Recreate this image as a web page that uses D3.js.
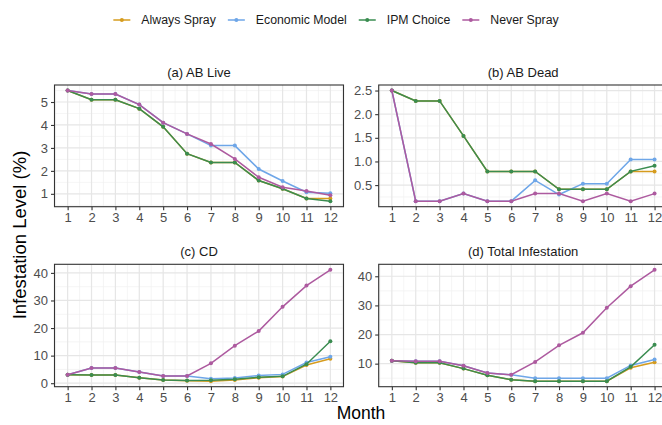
<!DOCTYPE html>
<html>
<head>
<meta charset="utf-8">
<script src="https://cdn.jsdelivr.net/npm/d3@7"></script>
<style>
  body { margin: 0; background: #fff; }
  svg { display: block; font-family: "Liberation Sans", Arial, Helvetica, sans-serif; }
</style>
</head>
<body>
<div id="chart"></div>
<script>
// months on the x axis
const months = [1, 2, 3, 4, 5, 6, 7, 8, 9, 10, 11, 12];
const seriesNames = ["Always Spray", "Economic Model", "IPM Choice", "Never Spray"];
const seriesColors = ["#D69C1E", "#6EA6E8", "#3A8C50", "#AD5A9F"];

// (a) AB Live
const abLiveAlways   = [5.5, 5.1, 5.1, 4.71, 3.92, 2.75, 2.37, 2.37, 1.58, 1.22, 0.8, 0.8];
const abLiveEconomic = [5.5, 5.35, 5.35, 4.89, 4.1, 3.61, 3.1, 3.1, 2.08, 1.56, 1.07, 1.03];
const abLiveIpm      = [5.5, 5.1, 5.1, 4.71, 3.92, 2.75, 2.37, 2.37, 1.58, 1.22, 0.8, 0.68];
const abLiveNever    = [5.5, 5.35, 5.35, 4.89, 4.1, 3.61, 3.17, 2.52, 1.72, 1.29, 1.12, 0.94];

// (b) AB Dead
const abDeadAlways   = [2.5, 2.28, 2.28, 1.54, 0.79, 0.79, 0.79, 0.41, 0.41, 0.41, 0.79, 0.79];
const abDeadEconomic = [2.5, 0.16, 0.16, 0.32, 0.16, 0.16, 0.6, 0.3, 0.53, 0.53, 1.04, 1.04];
const abDeadIpm      = [2.5, 2.28, 2.28, 1.54, 0.79, 0.79, 0.79, 0.41, 0.41, 0.41, 0.79, 0.91];
const abDeadNever    = [2.5, 0.16, 0.16, 0.32, 0.16, 0.16, 0.32, 0.32, 0.16, 0.32, 0.16, 0.32];

// (c) CD
const cdAlways   = [3.1, 3.0, 3.0, 2.0, 1.2, 0.9, 0.75, 1.2, 2.0, 2.4, 6.6, 8.9];
const cdEconomic = [3.1, 5.5, 5.5, 4.1, 2.65, 2.65, 1.6, 1.9, 2.8, 3.2, 7.5, 9.6];
const cdIpm      = [3.1, 3.0, 3.0, 2.0, 1.2, 1.0, 1.1, 1.4, 2.2, 2.5, 6.9, 15.2];
const cdNever    = [3.1, 5.5, 5.5, 4.1, 2.65, 2.65, 7.2, 13.6, 18.9, 27.7, 35.4, 41.1];

// (d) Total Infestation
const totalAlways   = [11.0, 10.3, 10.3, 8.3, 6.0, 4.5, 4.0, 4.0, 4.0, 4.0, 8.6, 10.5];
const totalEconomic = [11.0, 10.8, 10.8, 9.3, 6.8, 6.2, 5.0, 5.0, 5.0, 5.0, 9.4, 11.4];
const totalIpm      = [11.0, 10.3, 10.3, 8.3, 6.0, 4.5, 4.0, 4.0, 4.0, 4.0, 8.9, 16.5];
const totalNever    = [11.0, 10.8, 10.8, 9.3, 6.8, 6.2, 10.6, 16.3, 20.6, 29.2, 36.6, 42.2];

// y axis breaks per panel
const abLiveTicks = [1, 2, 3, 4, 5];
const abDeadTicks = [0.5, 1.0, 1.5, 2.0, 2.5];
const cdTicks = [0, 10, 20, 30, 40];
const totalTicks = [10, 20, 30, 40];

const width = 662, height = 425;

const panels = [
  { title: "(a) AB Live", values: [abLiveAlways, abLiveEconomic, abLiveIpm, abLiveNever],
    ticks: abLiveTicks, fmt: d3.format("d"), x0: 54.5, y0: 85, y1: 206.7 },
  { title: "(b) AB Dead", values: [abDeadAlways, abDeadEconomic, abDeadIpm, abDeadNever],
    ticks: abDeadTicks, fmt: d3.format(".1f"), x0: 378.7, y0: 85, y1: 206.7 },
  { title: "(c) CD", values: [cdAlways, cdEconomic, cdIpm, cdNever],
    ticks: cdTicks, fmt: d3.format("d"), x0: 54.5, y0: 264.3, y1: 386.7 },
  { title: "(d) Total Infestation", values: [totalAlways, totalEconomic, totalIpm, totalNever],
    ticks: totalTicks, fmt: d3.format("d"), x0: 378.7, y0: 264.3, y1: 386.7 }
];
const panelWidth = 289;

const svg = d3.select("#chart")
  .append("svg")
  .attr("width", width)
  .attr("height", height);

panels.forEach(function (p) {
  const g = svg.append("g");
  const x = d3.scaleLinear().domain([0.45, 12.55]).range([p.x0, p.x0 + panelWidth]);
  // ggplot style 5% expansion of the data range
  const ext = d3.extent(p.values.flat());
  const pad = (ext[1] - ext[0]) * 0.05;
  const y = d3.scaleLinear().domain([ext[0] - pad, ext[1] + pad]).range([p.y1, p.y0]);

  // minor grid lines sit halfway between breaks
  const step = p.ticks[1] - p.ticks[0];
  const minorY = d3.range(p.ticks[0] - step * 2.5, p.ticks[p.ticks.length - 1] + step * 2, step)
    .filter(v => v >= y.domain()[0] && v <= y.domain()[1]);
  const minorX = d3.range(0.5, 13, 1).filter(v => v >= 0.45 && v <= 12.55);

  g.selectAll(".minor-y").data(minorY).join("line")
    .attr("x1", p.x0).attr("x2", p.x0 + panelWidth)
    .attr("y1", d => y(d)).attr("y2", d => y(d))
    .attr("stroke", "#F0F0F0").attr("stroke-width", 0.7);
  g.selectAll(".minor-x").data(minorX).join("line")
    .attr("x1", d => x(d)).attr("x2", d => x(d))
    .attr("y1", p.y0).attr("y2", p.y1)
    .attr("stroke", "#F0F0F0").attr("stroke-width", 0.7);
  g.selectAll(".major-y").data(p.ticks).join("line")
    .attr("x1", p.x0).attr("x2", p.x0 + panelWidth)
    .attr("y1", d => y(d)).attr("y2", d => y(d))
    .attr("stroke", "#E6E6E6").attr("stroke-width", 1.2);
  g.selectAll(".major-x").data(months).join("line")
    .attr("x1", d => x(d)).attr("x2", d => x(d))
    .attr("y1", p.y0).attr("y2", p.y1)
    .attr("stroke", "#E6E6E6").attr("stroke-width", 1.2);

  // one line + points per strategy
  const line = d3.line()
    .x((d, i) => x(months[i]))
    .y(d => y(d));
  p.values.forEach(function (vals, k) {
    g.append("path")
      .datum(vals)
      .attr("d", line)
      .attr("fill", "none")
      .attr("stroke", seriesColors[k])
      .attr("stroke-width", 1.5);
    g.selectAll(".pt" + k).data(vals).join("circle")
      .attr("cx", (d, i) => x(months[i]))
      .attr("cy", d => y(d))
      .attr("r", 2)
      .attr("fill", seriesColors[k]);
  });

  // panel border
  g.append("rect")
    .attr("x", p.x0).attr("y", p.y0)
    .attr("width", panelWidth).attr("height", p.y1 - p.y0)
    .attr("fill", "none")
    .attr("stroke", "#333333")
    .attr("stroke-width", 1.1);

  // axes
  const xAxis = g.append("g")
    .attr("transform", `translate(0, ${p.y1})`)
    .call(d3.axisBottom(x).tickValues(months).tickSize(3.5).tickPadding(3));
  const yAxis = g.append("g")
    .attr("transform", `translate(${p.x0}, 0)`)
    .call(d3.axisLeft(y).tickValues(p.ticks).tickFormat(p.fmt).tickSize(3.5).tickPadding(3));
  [xAxis, yAxis].forEach(function (a) {
    a.select(".domain").remove();
    a.selectAll(".tick line").attr("stroke", "#333333").attr("stroke-width", 1.1);
    a.selectAll(".tick text")
      .attr("fill", "#4D4D4D")
      .style("font-size", "13px")
      .style("font-family", "'Liberation Sans', Arial, sans-serif");
  });

  // strip title
  svg.append("text")
    .attr("x", p.x0 + panelWidth / 2)
    .attr("y", p.y0 - 8)
    .attr("text-anchor", "middle")
    .attr("fill", "#1A1A1A")
    .style("font-size", "13px")
    .text(p.title);
});

// axis titles
svg.append("text")
  .attr("x", 361)
  .attr("y", 419)
  .attr("text-anchor", "middle")
  .style("font-size", "17.5px")
  .text("Month");
svg.append("text")
  .attr("transform", "translate(26, 235) rotate(-90)")
  .attr("text-anchor", "middle")
  .style("font-size", "18.5px")
  .text("Infestation Level (%)");

// legend on top, centred
const legend = svg.append("g");
const keyW = 17, keyGap = 11, itemGap = 12;
let cursor = 0;
seriesNames.forEach(function (name, k) {
  const item = legend.append("g");
  item.append("line")
    .attr("x1", 0).attr("x2", keyW)
    .attr("stroke", seriesColors[k]).attr("stroke-width", 1.5);
  item.append("circle")
    .attr("cx", keyW / 2).attr("r", 2).attr("fill", seriesColors[k]);
  const t = item.append("text")
    .attr("x", keyW + keyGap)
    .attr("dy", "0.35em")
    .style("font-size", "12.3px")
    .attr("fill", "#1A1A1A")
    .text(name);
  const w = keyW + keyGap + t.node().getComputedTextLength();
  item.attr("transform", `translate(${cursor}, 0)`);
  cursor += w + itemGap;
});
const legendWidth = cursor - itemGap;
legend.attr("transform", `translate(${336 - legendWidth / 2}, 20)`);
</script>
</body>
</html>
